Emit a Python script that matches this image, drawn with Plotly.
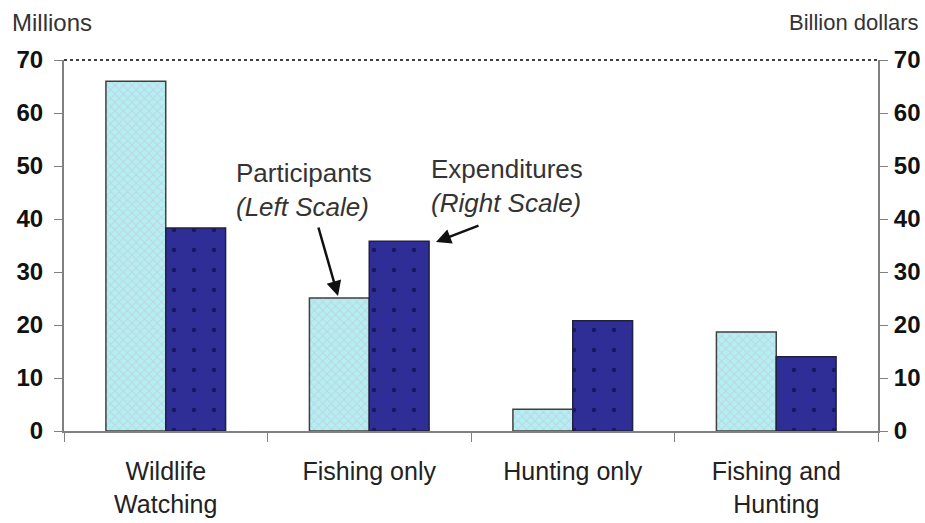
import plotly.graph_objects as go

categories = ["Wildlife<br>Watching", "Fishing only", "Hunting only", "Fishing and<br>Hunting"]
participants = [66.0, 25.1, 4.1, 18.7]   # millions, left scale
expenditures = [38.3, 35.8, 20.8, 14.0]  # billion dollars, right scale
y_ticks = [0, 10, 20, 30, 40, 50, 60, 70]

FONT = "Liberation Sans, Arial, sans-serif"

fig = go.Figure()
fig.add_trace(go.Bar(
    x=categories, y=participants, name="Participants", yaxis="y",
    width=0.294, offset=-0.294,
    marker=dict(color="#b4f0f0", line=dict(color="#404040", width=1.5),
                pattern=dict(shape="x", fgcolor="#c8b8e0", size=6, solidity=0.3)),
))
fig.add_trace(go.Bar(
    x=categories, y=expenditures, name="Expenditures", yaxis="y2",
    width=0.294, offset=0,
    marker=dict(color="#2e2e96", line=dict(color="#202040", width=1.5),
                pattern=dict(shape=".", fgcolor="#000030", size=20, solidity=0.04)),
))

axis_common = dict(
    range=[0, 70], tickvals=y_ticks, ticks="outside", ticklen=8, tickcolor="#808080",
    showgrid=False, zeroline=False, showline=True, linecolor="#808080", linewidth=2,
    tickfont=dict(family=FONT, size=24, color="#111", weight="bold"),
    automargin=False,
)


def px(xp, yp):
    return (xp - 64) / 814, (431 - yp) / 371


anns = []
x0, y0 = px(10, 22)
anns.append(dict(text="Millions", xref="paper", yref="paper", x=x0, y=y0,
                 xanchor="left", yanchor="middle", showarrow=False,
                 font=dict(family=FONT, size=24, color="#333")))
x0, y0 = px(921, 22)
anns.append(dict(text="Billion dollars", xref="paper", yref="paper", x=x0, y=y0,
                 xanchor="right", yanchor="middle", showarrow=False,
                 font=dict(family=FONT, size=22, color="#333")))
x0, y0 = px(304, 190)
anns.append(dict(text="Participants<br><i>(Left Scale)</i>", xref="paper", yref="paper",
                 x=x0, y=y0, xanchor="center", yanchor="middle", showarrow=False,
                 align="left", font=dict(family=FONT, size=26, color="#333")))
x0, y0 = px(507, 186)
anns.append(dict(text="Expenditures<br><i>(Right Scale)</i>", xref="paper", yref="paper",
                 x=x0, y=y0, xanchor="center", yanchor="middle", showarrow=False,
                 align="left", font=dict(family=FONT, size=26, color="#333")))
for (hx, hy), (tx, ty) in [((338, 296), (318, 226)), ((436, 242), (480, 225))]:
    a, b = px(hx, hy)
    c, d = px(tx, ty)
    anns.append(dict(text="", xref="x domain", yref="y domain", x=a, y=b,
                     axref="x domain", ayref="y domain", ax=c, ay=d,
                     showarrow=True, arrowhead=2, arrowsize=1.2, arrowwidth=2.5,
                     arrowcolor="#111"))

fig.update_layout(
    width=925, height=523,
    margin=dict(l=64, r=47, t=60, b=92, autoexpand=False),
    plot_bgcolor="white", paper_bgcolor="white",
    showlegend=False,
    barmode="overlay",
    xaxis=dict(
        range=[-0.5, 3.5], tickson="boundaries", ticks="outside", ticklen=9,
        tickcolor="#808080", showline=True, linecolor="#808080", linewidth=2,
        showgrid=False, tickfont=dict(family=FONT, size=25, color="#222"),
        ticklabelstandoff=17, automargin=False,
    ),
    yaxis=dict(**axis_common, side="left", ticklabelstandoff=6),
    yaxis2=dict(**axis_common, side="right", overlaying="y", ticklabelstandoff=1),
    shapes=[dict(type="line", xref="paper", yref="paper", x0=0, x1=1, y0=1, y1=1,
                 line=dict(color="#404040", width=2, dash="dot"))],
    annotations=anns,
)

fig.write_html("out.html")
